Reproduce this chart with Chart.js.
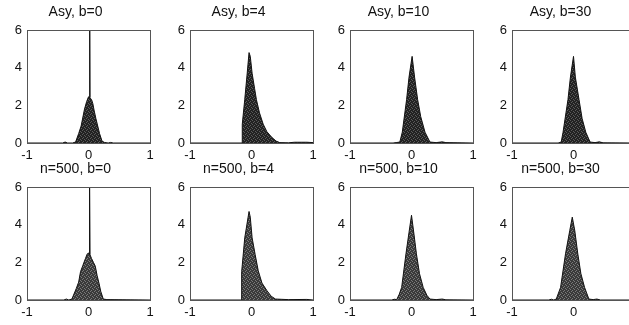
<!DOCTYPE html>
<html>
<head>
<meta charset="utf-8">
<script src="https://cdn.jsdelivr.net/npm/chart.js@4.4.0/dist/chart.umd.min.js"></script>
<style>
    html, body { margin: 0; padding: 0; background: #fff; overflow: hidden; }
    body { width: 629px; height: 325px; position: relative; }
    .panel { position: absolute; }
</style>
</head>
<body>
<div id="wrap"></div>
<script>
// Panel titles
const titles = ['Asy, b=0', 'Asy, b=4', 'Asy, b=10', 'Asy, b=30',
                'n=500, b=0', 'n=500, b=4', 'n=500, b=10', 'n=500, b=30'];

// Tick labels
const xTicks = [-1, 0, 1];
const yTicks = [0, 2, 4, 6];

// Density curves (x positions and heights)
const asyB0X = [-1, -0.42, -0.38, -0.34, -0.26, -0.21, -0.16, -0.12, -0.065, -0.03, 0, 0.015, 0.02, 0.025, 0.05, 0.07, 0.09, 0.12, 0.15, 0.18, 0.22, 0.26, 0.32, 0.36, 0.4, 1];
const asyB0Y = [0, 0, 0.05, 0, 0, 0.05, 0.5, 0.9, 1.8, 2.2, 2.45, 2.45, 6.3, 2.4, 2.3, 2.1, 1.75, 1.3, 0.9, 0.5, 0.1, 0.03, 0, 0.03, 0, 0];

const asyB4X = [-1, -0.15, -0.15, -0.11, -0.07, -0.04, -0.02, 0.01, 0.05, 0.08, 0.13, 0.19, 0.25, 0.33, 0.4, 0.46, 0.6, 0.7, 0.9, 1];
const asyB4Y = [0, 0, 1.0, 2.3, 3.7, 4.8, 4.6, 3.7, 2.9, 2.3, 1.6, 1.0, 0.6, 0.3, 0.1, 0.02, 0.01, 0.04, 0.04, 0.02];

const asyB10X = [-1, -0.3, -0.25, -0.19, -0.15, -0.08, -0.04, 0.01, 0.05, 0.1, 0.15, 0.22, 0.3, 0.4, 0.5, 0.56, 1];
const asyB10Y = [0, 0, 0.02, 0.05, 0.57, 2.3, 3.5, 4.6, 3.5, 2.3, 1.4, 0.57, 0.05, 0.02, 0.06, 0.02, 0];

const asyB30X = [-1, -0.25, -0.2, -0.17, -0.09, -0.05, 0, 0.03, 0.09, 0.14, 0.2, 0.27, 0.35, 0.42, 0.48, 1];
const asyB30Y = [0, 0, 0.05, 0.57, 2.3, 3.5, 4.6, 3.5, 2.3, 1.3, 0.57, 0.05, 0.02, 0.06, 0.01, 0];

const n500B0X = [-1, -0.4, -0.36, -0.32, -0.27, -0.2, -0.16, -0.13, -0.09, -0.05, -0.02, 0.01, 0.015, 0.02, 0.025, 0.05, 0.08, 0.11, 0.14, 0.17, 0.2, 0.24, 0.3, 1];
const n500B0Y = [0, 0, 0.05, 0, 0.05, 0.6, 0.95, 1.5, 1.85, 2.2, 2.45, 2.5, 2.4, 6.3, 2.4, 2.2, 2.0, 1.8, 1.3, 0.9, 0.45, 0.05, 0.02, 0];

const n500B4X = [-1, -0.16, -0.16, -0.11, -0.04, -0.02, 0.01, 0.06, 0.11, 0.17, 0.25, 0.32, 0.39, 0.6, 0.9, 1];
const n500B4Y = [0, 0, 1.5, 3.3, 4.7, 4.4, 3.3, 2.4, 1.55, 0.9, 0.5, 0.2, 0.05, 0.02, 0.03, 0];

const n500B10X = [-1, -0.32, -0.28, -0.24, -0.2, -0.16, -0.09, -0.04, 0, 0.04, 0.08, 0.13, 0.19, 0.25, 0.3, 0.4, 0.5, 0.56, 1];
const n500B10Y = [0, 0, 0.04, 0.02, 0.3, 0.67, 2.45, 3.6, 4.5, 3.5, 2.45, 1.4, 0.67, 0.25, 0.05, 0.02, 0.05, 0.01, 0];

const n500B30X = [-1, -0.4, -0.36, -0.32, -0.28, -0.21, -0.13, -0.06, -0.02, 0.02, 0.07, 0.12, 0.18, 0.25, 0.32, 0.38, 0.44, 1];
const n500B30Y = [0, 0, 0.04, 0, 0.05, 0.67, 2.45, 3.7, 4.4, 3.7, 2.45, 1.4, 0.67, 0.05, 0.02, 0.05, 0, 0];

const curvesX = [asyB0X, asyB4X, asyB10X, asyB30X, n500B0X, n500B4X, n500B10X, n500B30X];
const curvesY = [asyB0Y, asyB4Y, asyB10Y, asyB30Y, n500B0Y, n500B4Y, n500B10Y, n500B30Y];

// Speckled grey fill, like the printed histogram shading
function makeSpeckle(dark, light) {
    const c = document.createElement('canvas');
    c.width = 4; c.height = 4;
    const g = c.getContext('2d');
    g.fillStyle = dark;
    g.fillRect(0, 0, 4, 4);
    g.fillStyle = light;
    g.fillRect(0, 0, 1, 1);
    g.fillRect(2, 1, 1, 1);
    g.fillRect(3, 3, 1, 1);
    g.fillRect(1, 2, 1, 1);
    return g.createPattern(c, 'repeat');
}

// Box around the plot area
const frameBox = {
    id: 'frameBox',
    afterDraw(chart) {
        const a = chart.chartArea;
        const ctx = chart.ctx;
        ctx.save();
        ctx.strokeStyle = '#555';
        ctx.lineWidth = 1;
        ctx.strokeRect(Math.round(a.left) + 0.5, Math.round(a.top) + 0.5,
                       Math.round(a.right - a.left), Math.round(a.bottom - a.top));
        ctx.restore();
    }
};

document.addEventListener('DOMContentLoaded', function() {
    const wrap = document.getElementById('wrap');
    const colLeft = [1, 164, 324, 486];
    const rowTop = [0, 157];

    titles.forEach((title, i) => {
        const row = Math.floor(i / 4);
        const col = i % 4;
        const canvas = document.createElement('canvas');
        canvas.className = 'panel';
        canvas.width = 175;
        canvas.height = 163;
        canvas.style.left = colLeft[col] + 'px';
        canvas.style.top = rowTop[row] + 'px';
        canvas.style.width = '175px';
        canvas.style.height = '163px';
        wrap.appendChild(canvas);

        const pts = curvesX[i].map((x, k) => ({ x: x, y: curvesY[i][k] }));
        const fill = row === 0 ? makeSpeckle('#222', '#5a5a5a') : makeSpeckle('#3a3a3a', '#7a7a7a');

        new Chart(canvas.getContext('2d'), {
            type: 'line',
            data: {
                datasets: [{
                    data: pts,
                    borderColor: '#111',
                    borderWidth: 1,
                    backgroundColor: fill,
                    fill: 'origin',
                    pointRadius: 0,
                    tension: 0
                }]
            },
            options: {
                responsive: false,
                animation: false,
                layout: { padding: { left: 0, right: 26, top: 0, bottom: 0 } },
                plugins: {
                    legend: { display: false },
                    tooltip: { enabled: false },
                    title: {
                        display: true,
                        text: title,
                        color: '#111',
                        font: { family: 'Liberation Sans', size: 14, weight: 'normal' },
                        padding: { top: 4, bottom: 9.2 }
                    }
                },
                scales: {
                    x: {
                        type: 'linear',
                        min: -1,
                        max: 1,
                        grid: { display: false, drawTicks: false },
                        border: { display: false },
                        afterBuildTicks: s => { s.ticks = xTicks.map(v => ({ value: v })); },
                        afterFit: s => { s.height = 20; s.paddingLeft = 0; s.paddingRight = 0; },
                        ticks: {
                            color: '#111',
                            padding: 5,
                            maxRotation: 0,
                            font: { family: 'Liberation Sans', size: 13 }
                        }
                    },
                    y: {
                        min: 0,
                        max: 6,
                        grid: { display: false, drawTicks: false },
                        border: { display: false },
                        afterBuildTicks: s => { s.ticks = yTicks.map(v => ({ value: v })); },
                        afterFit: s => { s.width = 26; s.paddingTop = 0; s.paddingBottom = 0; },
                        ticks: {
                            color: '#111',
                            padding: 5,
                            font: { family: 'Liberation Sans', size: 13 }
                        }
                    }
                }
            },
            plugins: [frameBox]
        });
    });
});
</script>
</body>
</html>
